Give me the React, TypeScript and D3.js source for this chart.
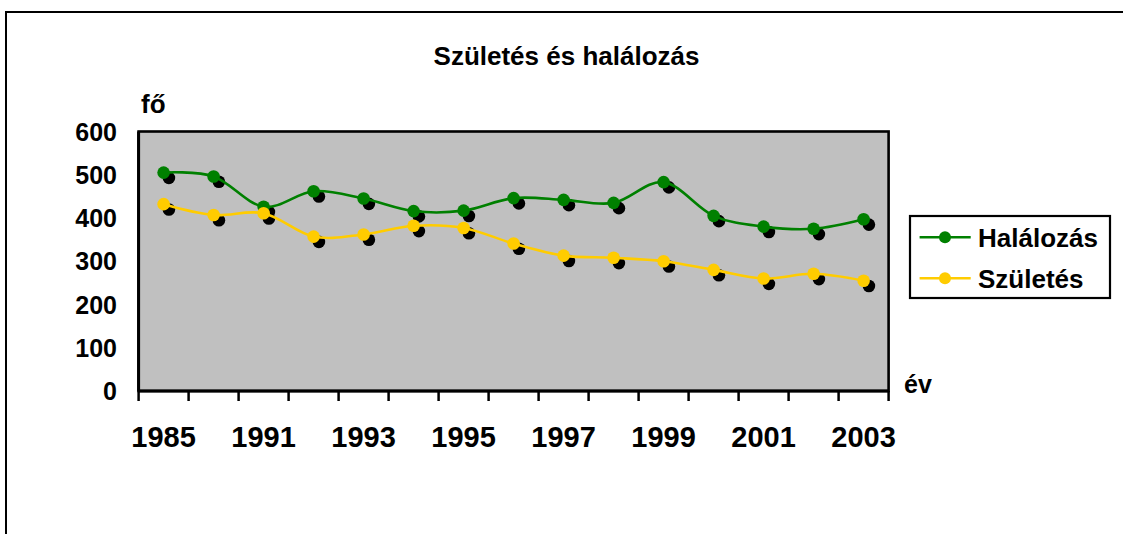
import React from "react";
import * as d3 from "d3";

const categories = ["1985", "1990", "1991", "1992", "1993", "1994", "1995", "1996", "1997", "1998", "1999", "2000", "2001", "2002", "2003"];
const tickLabels = ["1985", "1991", "1993", "1995", "1997", "1999", "2001", "2003"];
const halalozas = [505, 496, 426, 462, 445, 416, 417, 446, 442, 435, 483, 405, 380, 375, 397];
const szuletes = [432, 407, 411, 357, 362, 382, 377, 341, 313, 308, 300, 280, 260, 271, 255];
const yTicks = [0, 100, 200, 300, 400, 500, 600];

const seriesList = [
  { name: "Halálozás", values: halalozas, color: "#008000" },
  { name: "Születés", values: szuletes, color: "#FFCC00" },
];

const FONT = "'Liberation Sans', Arial, Helvetica, sans-serif";

export default function App() {
  const W = 1123, H = 534;
  const left = 138.6, right = 888.6, top = 131.5, bottom = 391;
  const x = d3.scaleBand<string>().domain(categories).range([left, right]).paddingInner(0).paddingOuter(0);
  const y = d3.scaleLinear().domain([0, 600]).range([bottom, top]);
  const cx = (c: string) => (x(c) as number) + x.bandwidth() / 2;
  const line = d3
    .line<number>()
    .x((_, i) => cx(categories[i]))
    .y((v) => y(v))
    .curve(d3.curveCardinal.tension(0));

  const boundaries = d3.range(categories.length + 1).map((i) => left + i * x.bandwidth());
  const r = 6.3;
  const sh = 5.3;

  return (
    <svg width={W} height={H} style={{ position: "absolute", left: 0, top: 0, background: "#fff" }} fontFamily={FONT} fontWeight="bold">
      <rect x={6} y={12} width={1300} height={700} fill="#fff" stroke="#000" strokeWidth={2} />
      <text x={566.5} y={65} fontSize={26} textAnchor="middle" fill="#000">Születés és halálozás</text>
      <text x={141} y={113} fontSize={26} fill="#000">fő</text>
      <text x={904} y={393} fontSize={25} fill="#000">év</text>

      <rect x={left} y={top} width={right - left} height={bottom - top} fill="#C0C0C0" stroke="#000" strokeWidth={2.6} />

      {yTicks.map((t) => (
        <text key={t} x={117} y={y(t)} dy="0.36em" fontSize={25} textAnchor="end" fill="#000">{t}</text>
      ))}

      {boundaries.map((b, i) => (
        <line key={i} x1={b} x2={b} y1={bottom} y2={bottom + 10} stroke="#000" strokeWidth={2.5} />
      ))}
      <line x1={left} x2={right} y1={bottom} y2={bottom} stroke="#000" strokeWidth={3} />
      <line x1={left} x2={left} y1={top} y2={bottom} stroke="#000" strokeWidth={3} />

      {tickLabels.map((t) => (
        <text key={t} x={cx(t)} y={446.5} fontSize={29} textAnchor="middle" fill="#000">{t}</text>
      ))}

      {seriesList.map((s) => (
        <g key={s.name}>
          {s.values.map((v, i) => (
            <circle key={"s" + i} cx={cx(categories[i]) + sh} cy={y(v) + sh} r={r} fill="#000" />
          ))}
          <path d={line(s.values) || ""} fill="none" stroke={s.color} strokeWidth={2.6} />
          {s.values.map((v, i) => (
            <circle key={"m" + i} cx={cx(categories[i])} cy={y(v)} r={r} fill={s.color} />
          ))}
        </g>
      ))}

      <rect x={910} y={216} width={200} height={82} fill="#fff" stroke="#000" strokeWidth={2.2} />
      {seriesList.map((s, i) => {
        const ly = 237.3 + i * 41;
        return (
          <g key={s.name}>
            <line x1={919.6} x2={970.7} y1={ly} y2={ly} stroke={s.color} strokeWidth={2.6} />
            <circle cx={945} cy={ly} r={6} fill={s.color} />
            <text x={978} y={ly + 9.4} fontSize={26} fill="#000">{s.name}</text>
          </g>
        );
      })}
    </svg>
  );
}
